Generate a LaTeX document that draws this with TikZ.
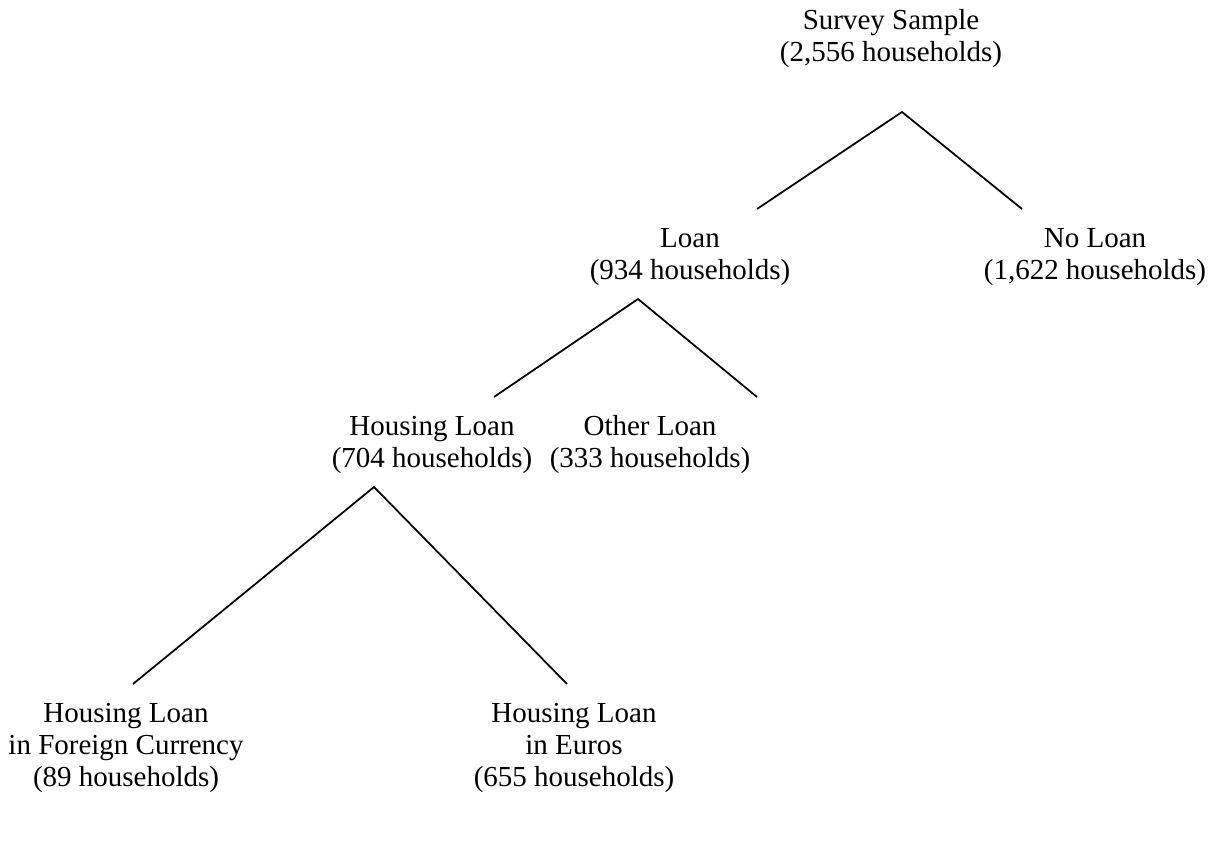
\documentclass[tikz,border=0pt]{standalone}
\usepackage{fontspec}
\setmainfont{Liberation Serif}
\usepackage{tikz}
\usetikzlibrary{positioning, calc}

\begin{document}
\begin{tikzpicture}[
    x=0.02cm, y=-0.02cm,
    group/.style={align=center, inner sep=0pt, font=\fontsize{16.5}{18.2}\selectfont},
    branch/.style={line width=1pt, line join=miter}
]
\useasboundingbox (0,0) rectangle (1214,851);

% groups of households
\node[group] (sample) at (891,39) {Survey Sample\\(2,556 households)};
\node[group] (loan) at (690,257) {Loan\\(934 households)};
\node[group] (noloan) at (1095,257) {No Loan\\(1,622 households)};
\node[group] (housing) at (432,445) {Housing Loan\\(704 households)};
\node[group] (other) at (650,445) {Other Loan\\(333 households)};
\node[group] (foreign) at (126,748) {Housing Loan\\in Foreign Currency\\(89 households)};
\node[group] (euros) at (574,748) {Housing Loan\\in Euros\\(655 households)};

% fork points
\coordinate (sampleFork) at (902,112);
\coordinate (loanEnd) at (757,209);
\coordinate (noloanEnd) at (1022,209);
\coordinate (loanFork) at (638,299);
\coordinate (housingEnd) at (494,397);
\coordinate (otherEnd) at (757,397);
\coordinate (housingFork) at (374,487);
\coordinate (foreignEnd) at (133,684);
\coordinate (eurosEnd) at (567,684);

\draw[branch] (loanEnd) -- (sampleFork) -- (noloanEnd);
\draw[branch] (housingEnd) -- (loanFork) -- (otherEnd);
\draw[branch] (foreignEnd) -- (housingFork) -- (eurosEnd);

\end{tikzpicture}
\end{document}
